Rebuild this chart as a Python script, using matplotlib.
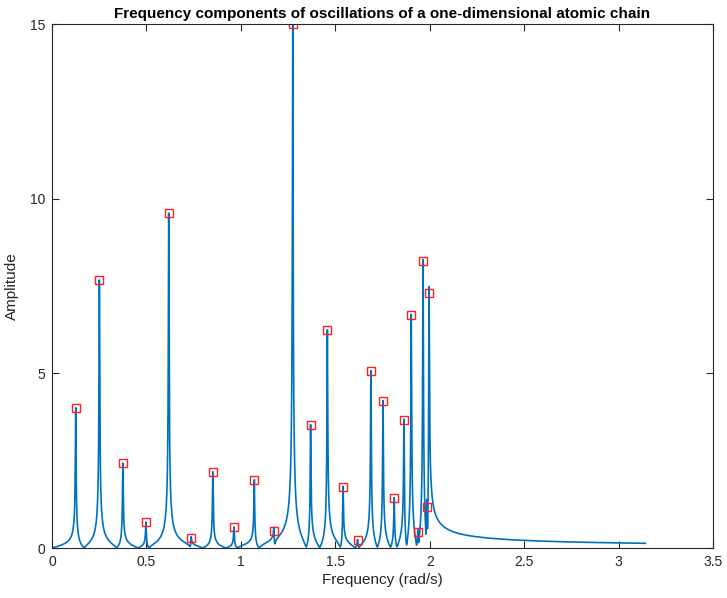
import numpy as np
import matplotlib
matplotlib.use("Agg")
import matplotlib.pyplot as plt

# Normal-mode frequencies of the chain (rad/s) and their spectral amplitudes
mode_freq = [0.1256, 0.2507, 0.3751, 0.4974, 0.6180, 0.7362, 0.8516, 0.9635,
             1.0712, 1.1756, 1.2748, 1.3691, 1.4579, 1.5408, 1.6180, 1.6886,
             1.7526, 1.8118, 1.8636, 1.9021, 1.9372, 1.9646, 1.9842, 1.9961]
mode_amp = [4.01, 7.67, 2.43, 0.74, 9.59, 0.29, 2.18, 0.60,
            1.95, 0.49, 15.0, 3.52, 6.24, 1.75, 0.23, 5.07,
            4.21, 1.43, 3.66, 6.67, 0.46, 8.22, 1.17, 7.30]
line_width_hz = 0.0017          # half-width of each resonance
freq_max = np.pi                # Nyquist limit of the spectrum

# Spectrum of a real signal: each damped mode contributes at +f0 and -f0
freq = np.linspace(0, freq_max, 40000)
resp = np.zeros_like(freq, dtype=complex)
for f0, a in zip(mode_freq, mode_amp):
    resp += a * line_width_hz / (line_width_hz + 1j * (freq - f0))
    resp += a * line_width_hz / (line_width_hz + 1j * (freq + f0))
spectrum = np.abs(resp)

plt.rcParams['font.family'] = ['Liberation Sans', 'DejaVu Sans']

fig = plt.figure(figsize=(7.27, 5.98), dpi=100)
ax = fig.add_axes([52 / 727, 50 / 598, 661 / 727, 524 / 598])

ax.plot(freq, spectrum, color='#0072BD', lw=1.2)
ax.plot(mode_freq, mode_amp, linestyle='none', marker='s', markersize=6,
        markerfacecolor='none', markeredgecolor='#FF2020', markeredgewidth=1.0)

ax.set_xlim(0, 3.5)
ax.set_ylim(0, 15)
ax.set_xticks(np.arange(0, 3.51, 0.5))
ax.set_xticklabels(['0', '0.5', '1', '1.5', '2', '2.5', '3', '3.5'])
ax.set_yticks([0, 5, 10, 15])

for s in ax.spines.values():
    s.set_color('#262626')
    s.set_linewidth(0.8)
ax.tick_params(direction='in', length=5, width=0.8, colors='#262626',
               labelsize=10, top=True, right=True, pad=5)

ax.set_xlabel('Frequency (rad/s)', fontsize=11, color='#262626', labelpad=3)
ax.set_ylabel('Amplitude', fontsize=11, color='#262626', labelpad=8)
ax.set_title('Frequency components of oscillations of a one-dimensional atomic chain',
             fontsize=11, fontweight='bold', color='black', pad=4)

fig.savefig('out.png', dpi=100)
